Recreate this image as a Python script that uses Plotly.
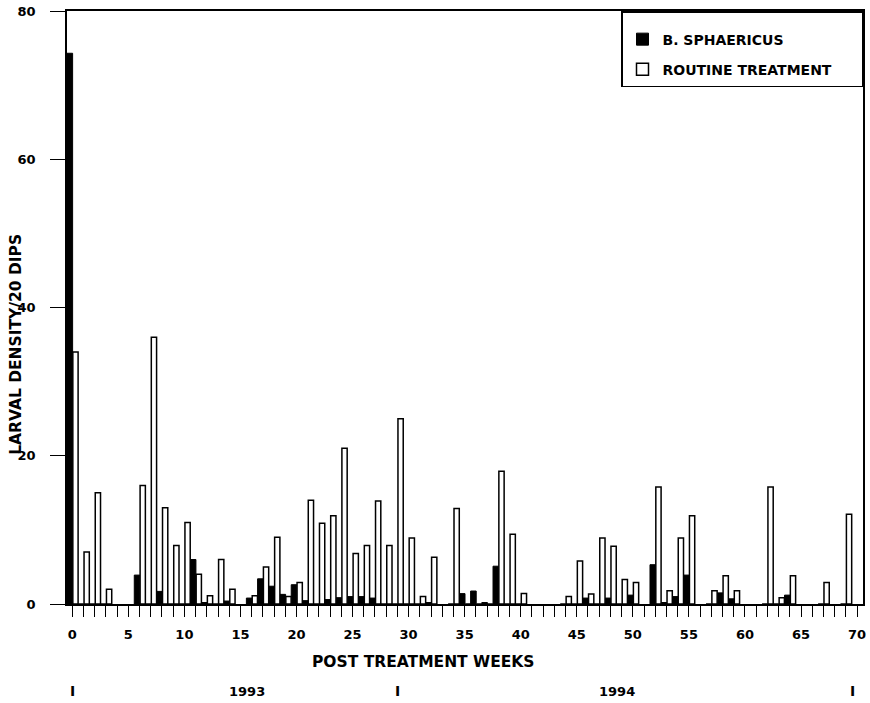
import plotly.graph_objects as go

# Sampling weeks after treatment
weeks = [0, 1, 2, 3, 6, 7, 8, 9, 10, 11, 12, 13, 14, 16, 17, 18, 19, 20, 21, 22,
         23, 24, 25, 26, 27, 28, 29, 30, 31, 32, 34, 35, 36, 37, 38, 39, 40, 44, 45, 46,
         47, 48, 49, 50, 52, 53, 54, 55, 57, 58, 59, 62, 63, 64, 67, 69]

# Larval density / 20 dips, B. sphaericus treated sites
b_sphaericus = [74.3, 0, 0, 0, 3.9, 0, 1.7, 0, 0, 6.0, 0.2, 0, 0.4, 0.8, 3.4, 2.4, 1.3, 2.6, 0.45, 0,
                0.6, 0.85, 1.0, 1.0, 0.8, 0, 0, 0, 0, 0.2, 0, 1.4, 1.75, 0.2, 5.1, 0, 0, 0, 0, 0.8,
                0, 0.8, 0, 1.2, 5.3, 0.2, 1.0, 3.9, 0, 1.5, 0.7, 0, 0, 1.2, 0, 0]

# Larval density / 20 dips, routine treatment sites
routine = [34, 7, 15, 2, 16, 36, 13, 7.9, 11, 4.0, 1.1, 6.0, 2.0, 1.1, 5.0, 9.0, 1.0, 2.9, 14, 10.9,
           11.9, 21, 6.8, 7.9, 13.9, 7.9, 25, 8.9, 1.0, 6.3, 12.9, 0, 0, 0, 17.9, 9.4, 1.4, 1.0, 5.8, 1.35,
           8.9, 7.8, 3.3, 2.9, 15.8, 1.8, 8.9, 11.9, 1.8, 3.8, 1.8, 15.8, 0.85, 3.8, 2.9, 12.1]

series_names = ["B. SPHAERICUS", "ROUTINE TREATMENT"]

x_tick_vals = list(range(0, 71, 5))
x_tick_text = [str(v) for v in x_tick_vals]
y_tick_vals = [0, 20, 40, 60, 80]
y_tick_text = [str(v) for v in y_tick_vals]

x_title = "POST TREATMENT WEEKS"
x_title_week = 31.3
y_title = "LARVAL DENSITY/20 DIPS"
y_title_pos = 0.437

year_labels = ["1993", "1994"]
year_label_weeks = [15.6, 48.6]
year_marks_weeks = [0, 29, 69.6]

FONT = "DejaVu Sans"
PAD = "\u00a0" * 5

fig = go.Figure()
fig.add_bar(x=weeks, y=b_sphaericus, name=series_names[0],
            marker=dict(color="black", line=dict(color="black", width=1)),
            offset=-0.47, width=0.5, legendgroup="a")
fig.add_bar(x=weeks, y=routine, name=series_names[1] + PAD,
            marker=dict(color="white", line=dict(color="black", width=1.5)),
            offset=0.05, width=0.47, legendgroup="b")

fig.update_layout(
    width=870, height=703,
    margin=dict(l=67, r=7, t=11, b=99),
    plot_bgcolor="white", paper_bgcolor="white",
    barmode="overlay",
    showlegend=True,
    legend=dict(x=1, xanchor="right", y=1, yanchor="top",
                bgcolor="white", bordercolor="black", borderwidth=1.5,
                font=dict(family=FONT, size=14, weight="bold", color="black"),
                title=dict(text="\u00a0", font=dict(size=8.5)),
                tracegroupgap=9, itemclick=False),
    font=dict(family=FONT, color="black"),
)

fig.update_xaxes(
    range=[-0.47, 70.53], automargin=False,
    tickmode="array", tickvals=x_tick_vals, ticktext=x_tick_text,
    ticks="outside", ticklen=11, tickwidth=1.3, tickcolor="black",
    minor=dict(tickmode="linear", tick0=0, dtick=1, ticks="outside", ticklen=11,
               tickwidth=1.3, tickcolor="black", showgrid=False),
    showline=True, linewidth=1.5, linecolor="black", mirror=True,
    showgrid=False, zeroline=False, ticklabeloverflow="allow",
    tickfont=dict(family=FONT, size=13, weight="bold", color="black"),
    ticklabelstandoff=7,
)

fig.update_yaxes(
    range=[0, 80], automargin=False,
    tickmode="array", tickvals=y_tick_vals, ticktext=y_tick_text,
    ticks="outside", ticklen=15, tickwidth=1.3, tickcolor="black",
    showline=True, linewidth=1.5, linecolor="black", mirror=True,
    showgrid=False, zeroline=False, ticklabeloverflow="allow",
    tickfont=dict(family=FONT, size=13, weight="bold", color="black"),
    ticklabelstandoff=12,
)

fig.add_annotation(x=x_title_week, xref="x", y=0, yref="paper", yanchor="middle", yshift=-58,
                   text=x_title, showarrow=False,
                   font=dict(family=FONT, size=15.5, weight="bold", color="black"))
fig.add_annotation(x=0, xref="paper", xanchor="center", xshift=-51, y=y_title_pos, yref="paper",
                   text=y_title, textangle=-90, showarrow=False,
                   font=dict(family=FONT, size=15.5, weight="bold", color="black"))

for w in year_marks_weeks:
    fig.add_annotation(x=w, xref="x", y=0, yref="paper", yanchor="middle", yshift=-87,
                       text="I", showarrow=False,
                       font=dict(family=FONT, size=14, weight="bold", color="black"))
for w, t in zip(year_label_weeks, year_labels):
    fig.add_annotation(x=w, xref="x", y=0, yref="paper", yanchor="middle", yshift=-87,
                       text=t, showarrow=False,
                       font=dict(family=FONT, size=13, weight="bold", color="black"))

fig.write_html("out.html", config={"displayModeBar": False},
               post_script="document.body.style.margin='0';")
